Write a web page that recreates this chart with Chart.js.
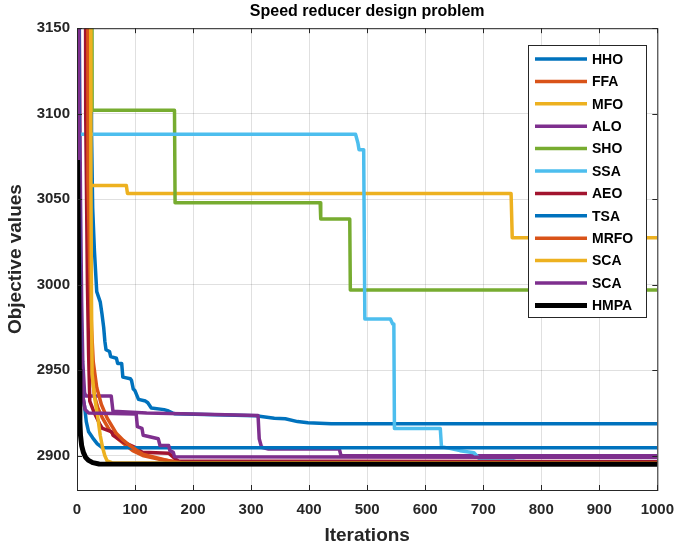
<!DOCTYPE html>
<html>
<head>
<meta charset="utf-8">
<script src="https://cdn.jsdelivr.net/npm/chart.js@4.4.1/dist/chart.umd.min.js"></script>
<style>
  html, body { margin: 0; padding: 0; background: #fff; }
  #wrap { width: 685px; height: 547px; }
</style>
</head>
<body>
<div id="wrap"><canvas id="chart"></canvas></div>
<script>
// convergence curves: [iteration, objective value]
// (3400 = above the visible top of the axes)
const hho = [[1,3400],[24,3400],[25,3090],[27,3045],[30,3020],[34,2996],[40,2990],[43,2983],[46,2975],[48,2967],
  [50,2962],[56,2961],[58,2958],[68,2957],[70,2954],[77,2954],[79,2946],[92,2945],[94,2944],[97,2939],[100,2938],
  [106,2933],[118,2932],[122,2931],[128,2928],[150,2927],[156,2926.4],[165,2925],[168,2924.6],[308,2923.4],
  [340,2922],[359,2921.7],[380,2920],[398,2919.3],[438,2918.7],[1000,2918.7]];
const ffa = [[1,3400],[16,3400],[17,3098],[20,3020],[23,2975],[26,2950],[30,2935],[36,2928],[44,2922],[56,2915],
  [70,2910],[85,2906],[96,2903],[115,2900],[142,2898],[170,2896.5],[1000,2896]];
const mfo = [[1,3400],[19,3400],[20,3058],[85,3058],[87,3053.4],[748,3053.4],[750,3027.5],[1000,3027.5]];
const alo = [[1,3400],[3,3400],[4,3150],[6,3050],[8,2990],[10,2955],[13,2937],[15,2935],[59,2935],[62,2926],
  [120,2925],[200,2924.5],[312,2923.5],[314,2910],[318,2905],[330,2904],[452,2904],[455,2900],[1000,2900]];
const sho = [[1,3400],[25,3400],[26,3102],[168,3102],[169,3048],[419,3048],[420,3038.5],[470,3038.5],[471,2997],[1000,2997]];
const ssa = [[1,3088],[480,3088],[484,3083],[486,3079],[494,3079],[496,2980],[540,2980],[544,2977],[546,2977],
  [547,2916],[626,2916],[628,2905.3],[640,2904.5],[660,2903],[684,2901.8],[694,2898],[745,2898],[760,2896],[1000,2896]];
const aeo = [[1,3400],[14,3400],[15,3100],[18,3000],[20,2960],[22,2932],[30,2925],[40,2918],[44,2916],[60,2914],
  [62,2912],[80,2908],[100,2905],[113,2902],[158,2901.5],[160,2901],[170,2898],[175,2897],[1000,2896.5]];
const tsa = [[1,3400],[3,3400],[4,3050],[6,2980],[8,2950],[10,2935],[13,2929],[16,2920],[20,2914],[27,2910.5],
  [35,2907],[44,2904.7],[1000,2904.7]];
const mrfo = [[1,3400],[18,3400],[19,3060],[22,3010],[25,2975],[28,2955],[34,2940],[42,2930],[52,2922],[68,2913],
  [80,2909],[91,2906],[104,2903],[113,2901],[135,2899],[159,2897],[180,2896],[1000,2895.8]];
const scaA = [[1,3400],[23,3400],[24,3060],[25,2990],[26,2948],[30,2935],[36,2922],[40,2912],[44,2905],[48,2900],
  [52,2897],[60,2896],[1000,2895.5]];
const scaB = [[1,3400],[2,3400],[3,3100],[5,3000],[7,2960],[10,2935],[14,2927],[20,2925],[102,2924.5],[104,2917],
  [112,2916],[114,2912],[140,2910],[143,2906],[158,2906],[160,2903],[166,2902],[168,2899.5],[1000,2899]];
const hmpa = [[1,3073],[3,3000],[4,2950],[5,2920],[6,2912],[8,2906],[11,2902],[15,2899],[20,2897.3],[27,2896],
  [38,2895.2],[1000,2895]];

const seriesNames = ["HHO", "FFA", "MFO", "ALO", "SHO", "SSA", "AEO", "TSA", "MRFO", "SCA", "SCA", "HMPA"];
const seriesData = [hho, ffa, mfo, alo, sho, ssa, aeo, tsa, mrfo, scaA, scaB, hmpa];
const seriesColors = ["#0072BD", "#D95319", "#EDB120", "#7E2F8E", "#77AC30", "#4DBEEE",
  "#A2142F", "#0072BD", "#D95319", "#EDB120", "#7E2F8E", "#000000"];

const xTicks = [0, 100, 200, 300, 400, 500, 600, 700, 800, 900, 1000];
const yTicks = [2900, 2950, 3000, 3050, 3100, 3150];

const FONT = '"Liberation Sans", Arial, sans-serif';
const AXIS_COLOR = "#262626";
Chart.defaults.font.family = FONT;

// MATLAB-like box: border on all four sides plus inward tick marks
const boxPlugin = {
  id: "box",
  afterDatasetsDraw(chart) {
    const { ctx, chartArea: a, scales } = chart;
    ctx.save();
    ctx.strokeStyle = AXIS_COLOR;
    ctx.lineWidth = 1;
    ctx.strokeRect(a.left + 0.5, a.top + 0.5, a.right - a.left, a.bottom - a.top);
    ctx.beginPath();
    xTicks.forEach((v) => {
      const px = Math.round(scales.x.getPixelForValue(v)) + 0.5;
      ctx.moveTo(px, a.bottom); ctx.lineTo(px, a.bottom - 5);
      ctx.moveTo(px, a.top); ctx.lineTo(px, a.top + 5);
    });
    yTicks.forEach((v) => {
      const py = Math.round(scales.y.getPixelForValue(v)) + 0.5;
      ctx.moveTo(a.left, py); ctx.lineTo(a.left + 5, py);
      ctx.moveTo(a.right, py); ctx.lineTo(a.right - 5, py);
    });
    ctx.stroke();
    ctx.restore();
  },
};

// legend box inside the top right of the axes
const legendPlugin = {
  id: "insideLegend",
  afterDraw(chart) {
    const { ctx } = chart;
    const x0 = 528, y0 = 45, w = 118, h = 272, rowH = 22.4;
    ctx.save();
    ctx.fillStyle = "#fff";
    ctx.fillRect(x0, y0, w, h);
    ctx.strokeStyle = AXIS_COLOR;
    ctx.lineWidth = 1;
    ctx.strokeRect(x0 + 0.5, y0 + 0.5, w, h);
    ctx.font = "bold 14px " + FONT;
    ctx.textBaseline = "middle";
    chart.data.datasets.forEach((ds, i) => {
      const y = y0 + 14 + i * rowH;
      ctx.strokeStyle = ds.borderColor;
      ctx.lineWidth = ds.borderWidth;
      ctx.beginPath();
      ctx.moveTo(x0 + 7, y);
      ctx.lineTo(x0 + 59, y);
      ctx.stroke();
      ctx.fillStyle = "#000";
      ctx.fillText(ds.label, x0 + 64, y + 1);
    });
    ctx.restore();
  },
};

const datasets = seriesNames.map((name, i) => ({
  label: name,
  data: seriesData[i],
  borderColor: seriesColors[i],
  backgroundColor: seriesColors[i],
  borderWidth: name === "HMPA" ? 5 : 3.5,
  pointRadius: 0,
  tension: 0,
  borderJoinStyle: "round",
  order: seriesNames.length - i, // later series drawn on top, like MATLAB
}));

new Chart(document.getElementById("chart"), {
  type: "line",
  data: { datasets },
  options: {
    responsive: true,
    maintainAspectRatio: false,
    animation: false,
    layout: { padding: { top: 0, right: 23, bottom: 0, left: 0 } },
    plugins: {
      legend: { display: false },
      tooltip: { enabled: false },
      title: {
        display: true,
        fullSize: false,
        text: "Speed reducer design problem",
        color: "#000",
        font: { size: 16, weight: "bold" },
        padding: { top: 2, bottom: 7 },
      },
    },
    scales: {
      x: {
        type: "linear",
        min: 0,
        max: 1000,
        afterBuildTicks: (scale) => { scale.ticks = xTicks.map((v) => ({ value: v })); },
        afterFit: (scale) => { scale.height = 57; },
        grid: { color: "rgba(0,0,0,0.12)", drawTicks: false },
        border: { display: true, color: AXIS_COLOR, width: 1 },
        ticks: {
          color: AXIS_COLOR,
          font: { size: 15, weight: "bold" },
          padding: 11,
          maxRotation: 0,
          callback: (v) => String(v),
        },
        title: {
          display: true,
          text: "Iterations",
          color: AXIS_COLOR,
          font: { size: 19, weight: "bold" },
          padding: 0,
        },
      },
      y: {
        type: "linear",
        min: 2880,
        max: 3150,
        afterBuildTicks: (scale) => { scale.ticks = yTicks.map((v) => ({ value: v })); },
        afterFit: (scale) => { scale.width = 77; },
        grid: { color: "rgba(0,0,0,0.12)", drawTicks: false },
        border: { display: true, color: AXIS_COLOR, width: 1 },
        ticks: {
          color: AXIS_COLOR,
          font: { size: 15, weight: "bold" },
          padding: 7,
          callback: (v) => String(v),
        },
        title: {
          display: true,
          text: "Objective values",
          color: AXIS_COLOR,
          font: { size: 19, weight: "bold" },
          padding: { top: 4, bottom: 0 },
        },
      },
    },
  },
  plugins: [boxPlugin, legendPlugin],
});
</script>
</body>
</html>
